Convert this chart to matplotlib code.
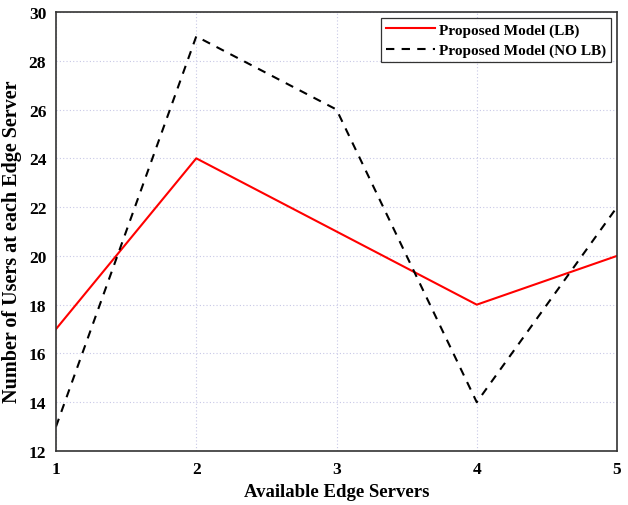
import matplotlib.pyplot as plt

servers = [1, 2, 3, 4, 5]
users_lb = [17, 24, 21, 18, 20]
users_no_lb = [13, 29, 26, 14, 22]

plt.rcParams['font.family'] = ['Liberation Serif', 'DejaVu Serif']
plt.rcParams['font.weight'] = 'bold'

fig = plt.figure(figsize=(6.28, 5.06), dpi=100)
ax = fig.add_axes([56 / 628, 1 - 452 / 506, (617 - 56) / 628, (452 - 13) / 506])

ax.plot(servers, users_lb, color='red', linewidth=1.5, label='Proposed Model (LB)')
ax.plot(servers, users_no_lb, color='black', linewidth=1.5, linestyle=(0, (4, 3.5)),
        label='Proposed Model (NO LB)')

ax.set_xlim(1, 5)
ax.set_ylim(12, 30)
ax.set_xticks(servers)
ax.set_yticks(range(12, 31, 2))
ax.tick_params(direction='in', length=0, labelsize=12.5, pad=7)
for lab in ax.get_xticklabels() + ax.get_yticklabels():
    lab.set_fontweight('bold')

ax.grid(True, linestyle=(0, (1, 2)), color='#c8c8e6', linewidth=0.8)
for s in ax.spines.values():
    s.set_color('#333333')
    s.set_linewidth(1.2)

ax.set_xlabel('Available Edge Servers', fontsize=13.5, fontweight='bold')
ax.set_ylabel('Number of Users at each Edge Server', fontsize=14.5, fontweight='bold')
ax.xaxis.set_label_coords(0.5, -0.074)
ax.yaxis.set_label_coords(-0.06, 0.478)

leg = ax.legend(loc='upper right', fontsize=11, frameon=True, fancybox=False,
                edgecolor='black', borderaxespad=0.4, handlelength=3.2,
                borderpad=0.3, labelspacing=0.45, handletextpad=0.3)
leg.get_frame().set_linewidth(0.9)
for t in leg.get_texts():
    t.set_fontweight('bold')

fig.savefig('out.png', dpi=100)
